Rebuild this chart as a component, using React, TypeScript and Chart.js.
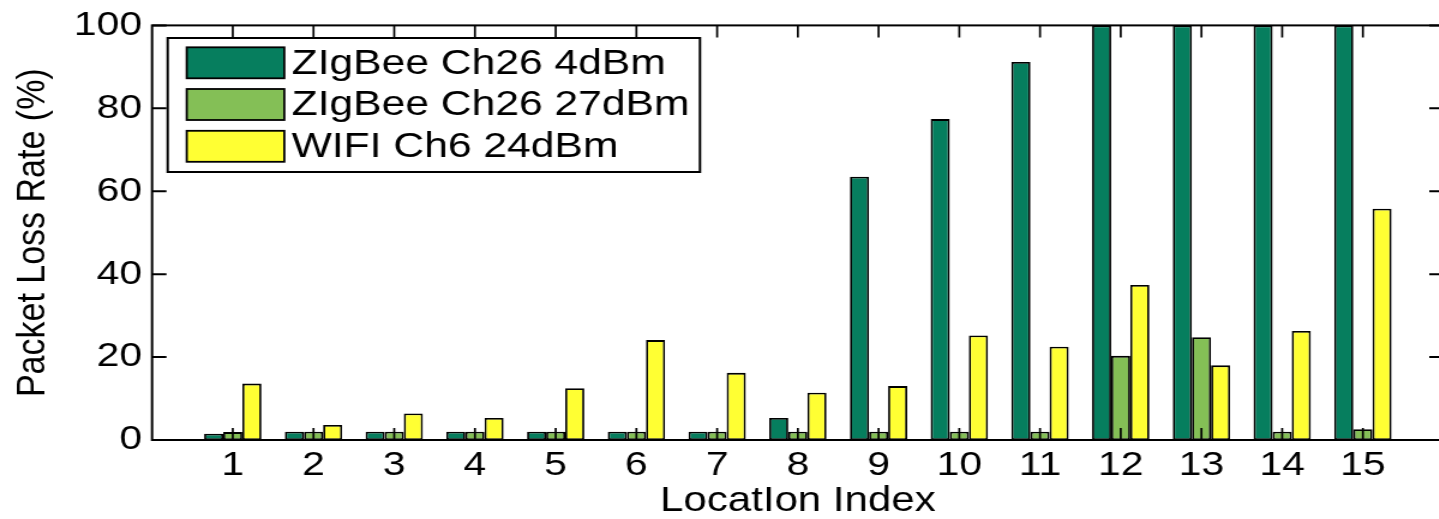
import React, { useEffect, useRef } from 'react';
import { Chart, registerables } from 'chart.js';

Chart.register(...registerables);

// ---- data ----
const locations = ['1', '2', '3', '4', '5', '6', '7', '8', '9', '10', '11', '12', '13', '14', '15'];
const zigbee4dBm = [1.5, 2, 2, 2, 2, 2, 2, 5.3, 63.5, 77.4, 91.2, 100, 100, 100, 100];
const zigbee27dBm = [1.9, 2, 2, 2, 2, 2, 2, 2, 2, 2, 2, 20.3, 24.8, 2, 2.6];
const wifi24dBm = [13.6, 3.6, 6.4, 5.3, 12.5, 24.1, 16.2, 11.4, 13.0, 25.2, 22.5, 37.4, 18.0, 26.3, 55.8];
const seriesLabels = ['ZIgBee Ch26 4dBm', 'ZIgBee Ch26 27dBm', 'WIFI Ch6 24dBm'];
const seriesColors = ['#067e5e', '#84bf56', '#ffff33'];
const yTickValues = [0, 20, 40, 60, 80, 100];
const xTitle = 'LocatIon Index';
const yTitle = 'Packet Loss Rate (%)';

// ---- presentation ----
const STRETCH = 1.2; // the reference figure is stretched horizontally
const OUT_W = 1439;
const OUT_H = 519;
const INNER_W = 1212;
const FONT = '"Liberation Sans", Arial, Helvetica, sans-serif';

const padNull = (arr: number[]) => [null, ...arr, null];

const framePlugin = {
  id: 'matlabFrame',
  afterDatasetsDraw(chart: any) {
    const { ctx, chartArea: a, scales } = chart;
    const x = scales.x;
    const y = scales.y;
    ctx.save();
    ctx.strokeStyle = '#000';
    // inward tick marks
    ctx.lineWidth = 1.7;
    ctx.beginPath();
    for (let i = 1; i <= locations.length; i++) {
      const px = x.getPixelForValue(i);
      ctx.moveTo(px, a.bottom);
      ctx.lineTo(px, a.bottom - 12);
      ctx.moveTo(px, a.top);
      ctx.lineTo(px, a.top + 12);
    }
    ctx.stroke();
    ctx.lineWidth = 2;
    ctx.beginPath();
    yTickValues.forEach((v) => {
      const py = y.getPixelForValue(v);
      ctx.moveTo(a.left, py);
      ctx.lineTo(a.left + 12, py);
      ctx.moveTo(a.right, py);
      ctx.lineTo(a.right - 12, py);
    });
    ctx.stroke();
    // box
    ctx.lineWidth = 2;
    ctx.strokeRect(a.left, a.top, a.right - a.left, a.bottom - a.top);

    // legend
    const bx = 139.7;
    const by = 38;
    const bw = 443.6;
    const bh = 134;
    ctx.fillStyle = '#fff';
    ctx.fillRect(bx, by, bw, bh);
    ctx.lineWidth = 2;
    ctx.strokeRect(bx, by, bw, bh);
    const rowCenters = [62.8, 104.5, 146.3];
    ctx.font = `35.5px ${FONT}`;
    ctx.textBaseline = 'middle';
    ctx.textAlign = 'left';
    chart.data.datasets.forEach((ds: any, i: number) => {
      const cy = rowCenters[i];
      ctx.fillStyle = ds.backgroundColor;
      ctx.fillRect(155.6, cy - 15.5, 81.3, 31);
      ctx.lineWidth = 1.8;
      ctx.strokeStyle = '#000';
      ctx.strokeRect(155.6, cy - 15.5, 81.3, 31);
      ctx.fillStyle = '#000';
      ctx.fillText(ds.label, 243, cy + 1);
    });
    ctx.restore();
  },
};

export default function App() {
  const canvasRef = useRef<HTMLCanvasElement | null>(null);

  useEffect(() => {
    document.body.style.margin = '0';
    const canvas = canvasRef.current;
    if (!canvas) return;
    const chart = new Chart(canvas, {
      type: 'bar',
      data: {
        labels: ['', ...locations, ''],
        datasets: [
          { label: seriesLabels[0], data: padNull(zigbee4dBm), backgroundColor: seriesColors[0] },
          { label: seriesLabels[1], data: padNull(zigbee27dBm), backgroundColor: seriesColors[1] },
          { label: seriesLabels[2], data: padNull(wifi24dBm), backgroundColor: seriesColors[2] },
        ].map((d) => ({
          ...d,
          borderColor: '#000',
          borderWidth: 1.8,
          borderSkipped: false,
          barPercentage: 1,
          categoryPercentage: 0.71,
        })) as any,
      },
      options: {
        animation: false,
        responsive: true,
        maintainAspectRatio: false,
        layout: { padding: { top: 24.5, right: 6, left: 0, bottom: 0 } },
        plugins: { legend: { display: false }, tooltip: { enabled: false } },
        scales: {
          x: {
            type: 'category',
            offset: false,
            grid: { display: false, drawTicks: false },
            border: { display: false },
            ticks: {
              autoSkip: false,
              maxRotation: 0,
              color: '#000',
              padding: 9,
              font: { family: FONT, size: 34, lineHeight: 1 },
            },
            title: {
              display: true,
              text: xTitle,
              color: '#000',
              font: { family: FONT, size: 35, lineHeight: 1 },
              padding: { top: 0, bottom: 0 },
            },
            afterFit: (s: any) => {
              s.height = 79;
            },
          },
          y: {
            min: 0,
            max: 100,
            grid: { display: false, drawTicks: false },
            border: { display: false },
            ticks: {
              stepSize: 20,
              color: '#000',
              padding: 8.4,
              font: { family: FONT, size: 34, lineHeight: 1 },
            },
            title: {
              display: true,
              text: yTitle,
              color: '#000',
              font: { family: FONT, size: 34, lineHeight: 1 },
              padding: { top: 10.5, bottom: 0 },
            },
            afterFit: (s: any) => {
              s.width = 126.7;
            },
          },
        },
      } as any,
      plugins: [framePlugin],
    });
    return () => chart.destroy();
  }, []);

  return (
    <div style={{ width: OUT_W, height: OUT_H, overflow: 'hidden', position: 'relative', background: '#fff' }}>
      <div
        style={{
          width: INNER_W,
          height: OUT_H,
          transform: `scaleX(${STRETCH})`,
          transformOrigin: '0 0',
          position: 'absolute',
          left: 0,
          top: 0,
        }}
      >
        <canvas ref={canvasRef} />
      </div>
    </div>
  );
}
